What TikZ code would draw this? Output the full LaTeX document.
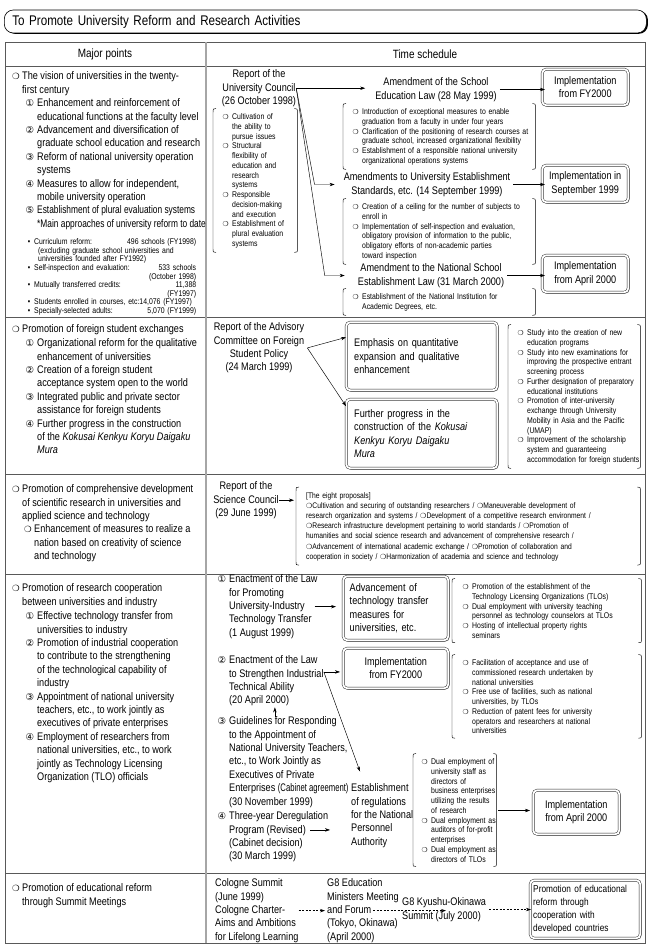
\documentclass[tikz,border=0pt]{standalone}
\usepackage{fontspec}
\setmainfont{Liberation Sans}[FakeStretch=0.83]
\newfontfamily\symfont{DejaVu Sans}
\usetikzlibrary{arrows.meta, positioning, calc, shadows}
\hyphenpenalty=10000
\exhyphenpenalty=10000

\newcommand\mainsz{\fontsize{11}{13.4}\selectfont}
\newcommand\smsz{\fontsize{8.3}{9.75}\selectfont}
\newcommand\hcirc{\leavevmode\llap{{\symfont\fontsize{8.5}{8.5}\selectfont ❍}\hspace{2.5pt}}}
\newcommand\scirc{\leavevmode\llap{{\symfont\fontsize{6.8}{6.8}\selectfont ❍}\hspace{3.5pt}}}
\newcommand\icirc{{\symfont\fontsize{7}{7}\selectfont ❍}}
\newcommand\numb[1]{\leavevmode\llap{{\symfont\fontsize{9.5}{9.5}\selectfont #1}\hspace{3pt}}}
\newcommand\dotb{\leavevmode\llap{\textbullet\hspace{4pt}}}
\newcommand\narrow[1]{{\addfontfeature{FakeStretch=0.7}#1}}
\newcommand\tight[1]{{\addfontfeature{FakeStretch=0.76}#1}}
% brackets round a list node: node, left gap, right gap
\newcommand\bracketnode[3]{%
  \draw[brk] ($(#1.north west)+({3-#2},-5)$) .. controls ($(#1.north west)+(-#2,-5)$) .. ($(#1.north west)+(-#2,0)$)
    -- ($(#1.south west)+(-#2,0)$) .. controls ($(#1.south west)+(-#2,4)$) .. ($(#1.south west)+({3-#2},4)$);
  \draw[brk] ($(#1.north east)+({#3-3},-5)$) .. controls ($(#1.north east)+(#3,-5)$) .. ($(#1.north east)+(#3,0)$)
    -- ($(#1.south east)+(#3,0)$) .. controls ($(#1.south east)+(#3,4)$) .. ($(#1.south east)+({#3-3},4)$);}

\tikzset{
  txt/.style={font=\mainsz, align=left, inner sep=0pt, anchor=north west},
  ctxt/.style={txt, align=center, anchor=north},
  items/.style={font=\smsz, align=left, inner sep=0pt, anchor=north west, text width=#1},
  hdr/.style={font=\fontsize{12}{14}\selectfont},
  arr/.style={-{Stealth[length=5pt,width=3.4pt]}, line width=0.45pt},
  darr/.style={arr, dash pattern=on 2pt off 1.5pt},
  brk/.style={line width=0.45pt},
  grid/.style={draw=black!65, line width=0.6pt},
  coldiv/.style={draw=black!35, line width=2pt},
  implbox/.style={draw=black!85, double=white, double distance=1.8pt, line width=0.45pt,
    rounded corners=4pt, fill=white, font=\mainsz, align=center, inner sep=3pt, anchor=north west,
    drop shadow={shadow xshift=1.3pt, shadow yshift=-1.3pt, fill=black!40, opacity=1}},
  textbox/.style={implbox, align=left, text width=#1},
  titlebar/.style={draw, line width=0.6pt, rounded corners=9pt, fill=white, text width=626,
    inner xsep=8, minimum height=23, align=left, anchor=west, font=\fontsize{14}{15}\selectfont,
    drop shadow={shadow xshift=1.6pt, shadow yshift=-0.8pt, fill=black, opacity=1}}
}

\begin{document}
\begin{tikzpicture}[x=1pt, y=-1pt]
\fill[white] (0,0) rectangle (651,949);
\useasboundingbox (0,0) rectangle (651,949);

% title and table
\node[titlebar] (title) at (4,21.5) {To Promote University Reform and Research Activities};
\draw[grid] (5,42) rectangle (645,943);
\foreach \y in {66,317,474,574,873}
  \draw[grid] (5,\y) -- (645,\y);
\draw[coldiv] (206,42.5) -- (206,942.5);
\node[hdr] (hmajor) at (105,54) {Major points};
\node[hdr] (hsched) at (425,54) {Time schedule};

% row 1
\node[txt] (vision) at (22,71.5) {\hcirc The vision of universities in the twenty-\\first century};
\node[txt] (visionpts) at (37,98.5) {\numb{①}Enhancement and reinforcement of\\educational functions at the faculty level\\\numb{②}Advancement and diversification of\\graduate school education and research\\\numb{③}Reform of national university operation\\systems\\\numb{④}Measures to allow for independent,\\mobile university operation\\\numb{⑤}\tight{Establishment of plural evaluation systems}\\\tight{*Main approaches of university reform to date}};
\node[items=162, font=\fontsize{8.3}{8.6}\selectfont] (reformfig) at (34,238.5) {\dotb Curriculum reform:\hfill 496 schools (FY1998)\\\hspace*{4pt}(excluding graduate school universities and\\\hspace*{4pt}universities founded after FY1992)\\\dotb Self-inspection and evaluation:\hfill 533 schools\\\mbox{}\hfill(October 1998)\\\dotb Mutually transferred credits:\hfill 11,388\\\mbox{}\hfill(FY1997)\\\dotb Students enrolled in courses, etc:14,076 (FY1997)\\\dotb Specially-selected adults:\hfill 5,070 (FY1999)};

\node[ctxt] (ucrep) at (259,69.5) {Report of the\\University Council\\(26 October 1998)};
\node[items=62] (ucpts) at (232,113.5) {\scirc Cultivation of\\the ability to\\pursue issues\\\scirc Structural\\flexibility of\\education and\\research\\systems\\\scirc Responsible\\decision-making\\and execution\\\scirc Establishment of\\plural evaluation\\systems};
\bracketnode{ucpts}{19}{3}

\node[ctxt] (amd1) at (436,77.5) {Amendment of the School\\Education Law (28 May 1999)};
\node[items=170] (amd1pts) at (362,108.5) {\scirc Introduction of exceptional measures to enable\\graduation from a faculty in under four years\\\scirc Clarification of the positioning of research courses at\\graduate school, increased organizational flexibility\\\scirc Establishment of a responsible national university\\organizational operations systems};
\bracketnode{amd1pts}{19}{3}
\node[ctxt] (amd2) at (427,172.5) {Amendments to University Establishment\\Standards, etc. (14 September 1999)};
\node[items=170] (amd2pts) at (362,203.5) {\scirc Creation of a ceiling for the number of subjects to\\enroll in\\\scirc Implementation of self-inspection and evaluation,\\obligatory provision of information to the public,\\obligatory efforts of non-academic parties\\toward inspection};
\bracketnode{amd2pts}{19}{3}
\node[ctxt] (amd3) at (431,263.5) {Amendment to the National School\\Establishment Law (31 March 2000)};
\node[items=170] (amd3pts) at (362,293.5) {\scirc Establishment of the National Institution for\\Academic Degrees, etc.};
\bracketnode{amd3pts}{19}{3}

\node[implbox, minimum width=86, minimum height=36] (impl1) at (542,69) {Implementation\\from FY2000};
\node[implbox, minimum width=86, minimum height=37] (impl2) at (542,165) {Implementation in\\September 1999};
\node[implbox, minimum width=86, minimum height=37] (impl3) at (542,255) {Implementation\\from April 2000};

\draw[arr] (ucrep.east) -- ([xshift=-10pt]ucrep.east -| amd1.west);
\draw[arr] (ucrep.east) -- ([xshift=-29pt]amd2.west) -- ([xshift=-9pt]amd2.west);
\draw[arr] (ucrep.east) -- ([xshift=-33pt]amd3.west) -- ([xshift=-13pt]amd3.west);
\draw[arr] ([xshift=3pt]amd1.east) -- ([xshift=3pt]amd1.east -| impl1.west);
\draw[arr] ([xshift=3pt]amd2.east) -- ([xshift=3pt]amd2.east -| impl2.west);
\draw[arr] ([xshift=3pt]amd3.east) -- ([xshift=3pt]amd3.east -| impl3.west);

% row 2
\node[txt] (fsx) at (22,324.5) {\hcirc Promotion of foreign student exchanges};
\node[txt] (fsxaims) at (37,338.5) {\numb{①}Organizational reform for the qualitative\\enhancement of universities\\\numb{②}Creation of a foreign student\\acceptance system open to the world\\\numb{③}Integrated public and private sector\\assistance for foreign students\\\numb{④}Further progress in the construction\\of the \textit{Kokusai Kenkyu Koryu Daigaku}\\\textit{Mura}};

\node[ctxt] (advrep) at (259,322.5) {Report of the Advisory\\Committee on Foreign\\Student Policy\\(24 March 1999)};
\node[textbox=135, minimum width=151, minimum height=68] (emph) at (346,322) {Emphasis on quantitative\\expansion and qualitative\\enhancement};
\node[textbox=135, minimum width=151, minimum height=69] (further) at (346,399) {Further progress in the\\construction of the \textit{Kokusai}\\\textit{Kenkyu Koryu Daigaku}\\\textit{Mura}};
\node[items=117] (fsxstudy) at (527,329.5) {\scirc Study into the creation of new\\education programs\\\scirc Study into new examinations for\\improving the prospective entrant\\screening process\\\scirc Further designation of preparatory\\educational institutions\\\scirc Promotion of inter-university\\exchange through University\\Mobility in Asia and the Pacific\\(UMAP)\\\scirc Improvement of the scholarship\\system and guaranteeing\\accommodation for foreign students};
\bracketnode{fsxstudy}{19}{-4}

\draw[arr] ([xshift=3pt]advrep.east) -- (emph.166);
\draw[arr] ([xshift=3pt]advrep.east) -- (further.160);

% row 3
\node[txt] (scidev) at (22,484.5) {\hcirc Promotion of comprehensive development\\of scientific research in universities and\\applied science and technology};
\node[txt] (scidevpts) at (34,524.5) {\hcirc Enhancement of measures to realize a\\nation based on creativity of science\\and technology};

\node[ctxt] (scirep) at (246,481.5) {Report of the\\Science Council\\(29 June 1999)};
\node[items=334, font=\fontsize{8.1}{10.2}\selectfont] (props) at (306,492) {[The eight proposals]\\\icirc Cultivation and securing of outstanding researchers / \icirc Maneuverable development of\\research organization and systems / \icirc Development of a competitive research environment /\\\icirc Research infrastructure development pertaining to world standards / \icirc Promotion of\\humanities and social science research and advancement of comprehensive research /\\\icirc Advancement of international academic exchange / \icirc Promotion of collaboration and\\cooperation in society / \icirc Harmonization of academia and science and technology};
\bracketnode{props}{10}{0}
\draw[arr] (scirep.east) -- ([xshift=-12pt]scirep.east -| props.west);

% row 4
\node[txt] (ric) at (22,583.5) {\hcirc Promotion of research cooperation\\between universities and industry};
\node[txt] (ricpts) at (37,611.5) {\numb{①}Effective technology transfer from\\universities to industry\\\numb{②}Promotion of industrial cooperation\\to contribute to the strengthening\\of the technological capability of\\industry\\\numb{③}Appointment of national university\\teachers, etc., to work jointly as\\executives of private enterprises\\\numb{④}Employment of researchers from\\national universities, etc., to work\\jointly as Technology Licensing\\Organization (TLO) officials};

\node[txt] (law1) at (229,574.5) {\numb{①}Enactment of the Law\\for Promoting\\University-Industry\\Technology Transfer\\(1 August 1999)};
\node[txt] (law2) at (229,655.5) {\numb{②}Enactment of the Law\\to Strengthen Industrial\\Technical Ability\\(20 April 2000)};
\node[txt] (law3) at (229,716.5) {\numb{③}Guidelines for Responding\\to the Appointment of\\National University Teachers,\\etc., to Work Jointly as\\Executives of Private\\Enterprises \narrow{(Cabinet agreement)}\\(30 November 1999)};
\node[txt] (law4) at (229,811.5) {\numb{④}Three-year Deregulation\\Program (Revised)\\(Cabinet decision)\\(30 March 1999)};
\node[txt] (npa) at (351,783.5) {Establishment\\of regulations\\for the National\\Personnel\\Authority};

\node[textbox=92, minimum width=105, minimum height=64] (adv) at (343,576) {Advancement of\\technology transfer\\measures for\\universities, etc.};
\node[implbox, minimum width=105, minimum height=40] (impl4) at (343,648) {Implementation\\from FY2000};
\node[implbox, minimum width=86, minimum height=44] (impl5) at (533,790) {Implementation\\from April 2000};

\node[items=168] (tlopts) at (472,583.5) {\scirc Promotion of the establishment of the\\Technology Licensing Organizations (TLOs)\\\scirc Dual employment with university teaching\\personnel as technology counselors at TLOs\\\scirc Hosting of intellectual property rights\\seminars};
\bracketnode{tlopts}{20}{1}
\node[items=168] (indpts) at (472,659.5) {\scirc Facilitation of acceptance and use of\\commissioned research undertaken by\\national universities\\\scirc Free use of facilities, such as national\\universities, by TLOs\\\scirc Reduction of patent fees for university\\operators and researchers at national\\universities};
\bracketnode{indpts}{20}{1}
\node[items=70] (dualpts) at (431,758.5) {\scirc Dual employment of\\university staff as\\directors of\\business enterprises\\utilizing the results\\of research\\\scirc Dual employment as\\auditors of for-profit\\enterprises\\\scirc Dual employment as\\directors of TLOs};
\bracketnode{dualpts}{18}{-5}

\draw[arr, shorten >=4pt] ([xshift=-3pt]law1.east) -- ([xshift=-3pt]law1.east -| adv.west);
\draw[arr, shorten >=3pt] ([yshift=9pt]law2.east) -- ([yshift=9pt]law2.east -| impl4.west);
\draw[arr] ([yshift=9pt]law2.east) -- ([shift={(9pt,12pt)}]npa.north west);
\draw[arr, shorten >=1pt] ([xshift=-14pt]law3.north) -- ([xshift=-14pt]law3.north |- law2.south);
\draw[arr, shorten >=3pt] ([shift={(-18pt,7pt)}]law4.east) -- ([shift={(-18pt,7pt)}]law4.east -| npa.west);
\draw[arr] ([xshift=-3pt]dualpts.east) -- ([xshift=-3pt]dualpts.east -| impl5.west);

% row 5
\node[txt] (summ) at (22,883.5) {\hcirc Promotion of educational reform\\through Summit Meetings};
\node[txt] (cologne) at (215,878.5) {Cologne Summit\\(June 1999)\\Cologne Charter-\\Aims and Ambitions\\for Lifelong Learning};
\node[txt] (g8edu) at (327,878.5) {G8 Education\\Ministers Meeting\\and Forum\\(Tokyo, Okinawa)\\(April 2000)};
\node[txt] (g8ko) at (402,897.5) {G8 Kyushu-Okinawa\\Summit (July 2000)};
\node[textbox=104, minimum width=110, minimum height=58, font=\fontsize{10}{13}\selectfont] (promo) at (530,880) {Promotion of educational\\reform through\\cooperation with\\developed countries};

\draw[darr, shorten >=2pt] (cologne.east) -- (cologne.east -| g8edu.west);
\draw[darr, shorten >=2pt] ([xshift=46pt]g8edu.west) -- ([xshift=46pt]g8edu.west -| g8ko.west);
\draw[darr, shorten >=2pt] ([xshift=3pt]g8ko.east) -- ([xshift=3pt]g8ko.east -| promo.west);
\end{tikzpicture}
\end{document}
